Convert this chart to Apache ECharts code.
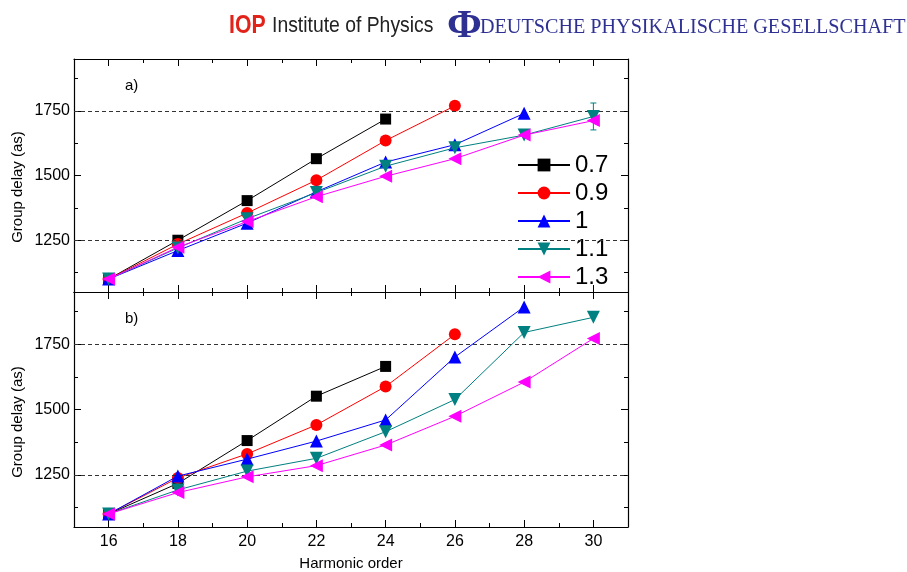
<!DOCTYPE html>
<html>
<head>
<meta charset="utf-8">
<script src="https://cdn.jsdelivr.net/npm/echarts@6/dist/echarts.min.js"></script>
<style>html,body{margin:0;padding:0;background:#fff}#c{width:907px;height:572px}</style>
</head>
<body>
<div id="c"></div>
<script>
// ---- data ----
const harmonics = [16, 18, 20, 22, 24, 26, 28, 30];
const seriesNames = ['0.7', '0.9', '1', '1.1', '1.3'];
// panel a)
const a07 = [1100, 1250, 1403, 1565, 1718, null, null, null];
const a09 = [1100, 1235, 1355, 1482, 1635, 1769, null, null];
const a10 = [1100, 1210, 1316, 1437, 1552, 1619, 1740, null];
const a11 = [1100, 1220, 1333, 1434, 1536, 1607, 1656, 1728];
const a13 = [1100, 1223, 1322, 1418, 1497, 1565, 1656, 1712];
// panel b)
const b07 = [1100, 1217, 1381, 1551, 1665, null, null, null];
const b09 = [1100, 1238, 1330, 1441, 1588, 1788, null, null];
const b10 = [1100, 1245, 1310, 1379, 1460, 1701, 1893, null];
const b11 = [1100, 1192, 1264, 1313, 1415, 1538, 1795, 1853];
const b13 = [1100, 1182, 1242, 1285, 1364, 1474, 1605, 1772];
// error bar (panel a, series 1.1 at harmonic 30)
const errA11 = [[30, 1728, 52]];
// ticks
const xMajor = [16, 18, 20, 22, 24, 26, 28, 30];
const xMinor = [15, 17, 19, 21, 23, 25, 27, 29, 31];
const yMajor = [1250, 1500, 1750];
const yMinor = [1125, 1375, 1625, 1875];
const refLines = [1250, 1750];

// ---- styles ----
const colors = ['#000000', '#ff0000', '#0000ff', '#008080', '#ff00ff'];
const symbols = ['rect', 'circle', 'triangle', 'triangle', 'triangle'];
const rotates = [0, 0, 0, 180, 90];
const sizes = [11, 12, 13, 13, 13];
const FONT = '"Liberation Sans", Arial, sans-serif';
const SERIF = '"Liberation Serif", "Times New Roman", serif';

const chart = echarts.init(document.getElementById('c'), null, {renderer: 'canvas'});

const grids = [
  {left: 74, right: 279, top: 59, height: 233, outerBoundsMode: 'none', containLabel: false},
  {left: 74, right: 279, top: 292, height: 235, outerBoundsMode: 'none', containLabel: false}
];

const xAxes = [], yAxes = [];
function addX(g, pos, vals, len, showLabels, lineShow) {
  xAxes.push({
    type: 'value', gridIndex: g, position: pos, min: 15, max: 31,
    axisLine: {show: lineShow, onZero: false, lineStyle: {color: '#000', width: 1.2}},
    axisTick: {show: true, inside: true, length: len, customValues: vals, lineStyle: {color: '#000', width: 1}},
    axisLabel: showLabels ? {show: true, customValues: vals, fontSize: 16, color: '#000', fontFamily: FONT, margin: 7,
      formatter: v => String(v)} : {show: false},
    splitLine: {show: false},
    name: showLabels ? 'Harmonic order' : '',
    nameLocation: 'middle', nameGap: 29,
    nameTextStyle: {fontSize: 15, color: '#000', fontFamily: FONT}
  });
}
function addY(g, pos, vals, len, showLabels, lineShow) {
  yAxes.push({
    type: 'value', gridIndex: g, position: pos, min: 1050, max: 1950,
    axisLine: {show: lineShow, onZero: false, lineStyle: {color: '#000', width: 1.2}},
    axisTick: {show: true, inside: true, length: len, customValues: vals, lineStyle: {color: '#000', width: 1}},
    axisLabel: showLabels ? {show: true, customValues: vals, fontSize: 16, color: '#000', fontFamily: FONT, margin: 4,
      formatter: v => String(v)} : {show: false},
    splitLine: {show: false}
  });
}
for (let g = 0; g < 2; g++) {
  addX(g, 'bottom', xMajor, 7, g === 1, true);   // index 4g
  addX(g, 'bottom', xMinor, 4, false, false);
  addX(g, 'top', xMajor, 7, false, true);
  addX(g, 'top', xMinor, 4, false, false);
  addY(g, 'left', yMajor, 7, true, true);        // index 4g
  addY(g, 'left', yMinor, 4, false, false);
  addY(g, 'right', yMajor, 7, false, true);
  addY(g, 'right', yMinor, 4, false, false);
}

function pairs(vals) {
  const out = [];
  vals.forEach((v, i) => { if (v !== null) out.push([harmonics[i], v]); });
  return out;
}

const panels = [[a07, a09, a10, a11, a13], [b07, b09, b10, b11, b13]];
const series = [];
panels.forEach((arrs, g) => {
  arrs.forEach((vals, k) => {
    const s = {
      type: 'line', name: seriesNames[k], xAxisIndex: 4 * g, yAxisIndex: 4 * g,
      data: pairs(vals), symbol: symbols[k], symbolSize: sizes[k], symbolRotate: rotates[k],
      showSymbol: true, color: colors[k], lineStyle: {width: 1, color: colors[k]},
      itemStyle: {color: colors[k]}, z: 3 + k, animation: false
    };
    if (k === 0) {
      s.markLine = {
        silent: true, symbol: ['none', 'none'], label: {show: false},
        lineStyle: {type: [4, 3], color: '#333', width: 1.2},
        data: refLines.map(v => ({yAxis: v})), animation: false
      };
    }
    series.push(s);
  });
});

series.push({
  type: 'custom', xAxisIndex: 0, yAxisIndex: 0, z: 2, animation: false,
  data: errA11,
  renderItem: function (params, api) {
    const x = api.value(0), y = api.value(1), e = api.value(2);
    const top = api.coord([x, y + e]);
    const bot = api.coord([x, y - e]);
    const st = {stroke: colors[3], lineWidth: 1};
    return {type: 'group', children: [
      {type: 'line', shape: {x1: top[0], y1: top[1], x2: bot[0], y2: bot[1]}, style: st},
      {type: 'line', shape: {x1: top[0] - 3, y1: top[1], x2: top[0] + 3, y2: top[1]}, style: st},
      {type: 'line', shape: {x1: bot[0] - 3, y1: bot[1], x2: bot[0] + 3, y2: bot[1]}, style: st}
    ]};
  }
});

const option = {
  backgroundColor: '#fff',
  animation: false,
  grid: grids,
  xAxis: xAxes,
  yAxis: yAxes,
  legend: {
    data: seriesNames, orient: 'vertical', left: 512, top: 148,
    itemWidth: 52, itemHeight: 16, itemGap: 4,
    textStyle: {fontSize: 24, color: '#000', fontFamily: FONT},
    selectedMode: false
  },
  series: series,
  graphic: [
    {type: 'text', left: 125, top: 78, style: {text: 'a)', fontSize: 15, fill: '#000', fontFamily: FONT}},
    {type: 'text', left: 125, top: 311, style: {text: 'b)', fontSize: 15, fill: '#000', fontFamily: FONT}},
    {type: 'text', x: 18, y: 187, rotation: Math.PI / 2,
      style: {text: 'Group delay (as)', fontSize: 15, fill: '#000', fontFamily: FONT, align: 'center', verticalAlign: 'middle'}},
    {type: 'text', x: 18, y: 422, rotation: Math.PI / 2,
      style: {text: 'Group delay (as)', fontSize: 15, fill: '#000', fontFamily: FONT, align: 'center', verticalAlign: 'middle'}},
    {type: 'text', x: 229, y: 26, scaleX: 0.85, style: {text: 'IOP', fontSize: 25, fontWeight: 'bold', fill: '#e2231a', fontFamily: FONT, verticalAlign: 'middle'}},
    {type: 'text', x: 272, y: 26, scaleX: 0.88, style: {text: 'Institute of Physics', fontSize: 22, fill: '#222', fontFamily: FONT, verticalAlign: 'middle'}},
    {type: 'text', x: 447, y: 27, scaleX: 1.05, style: {text: 'Φ', fontSize: 40, fontWeight: 'bold', fill: '#2e3192', fontFamily: SERIF, verticalAlign: 'middle'}},
    {type: 'text', x: 480, y: 27, scaleX: 0.96, style: {text: 'DEUTSCHE PHYSIKALISCHE GESELLSCHAFT', fontSize: 21, fill: '#2e3192', fontFamily: SERIF, verticalAlign: 'middle'}}
  ]
};
chart.setOption(option);
</script>
</body>
</html>
